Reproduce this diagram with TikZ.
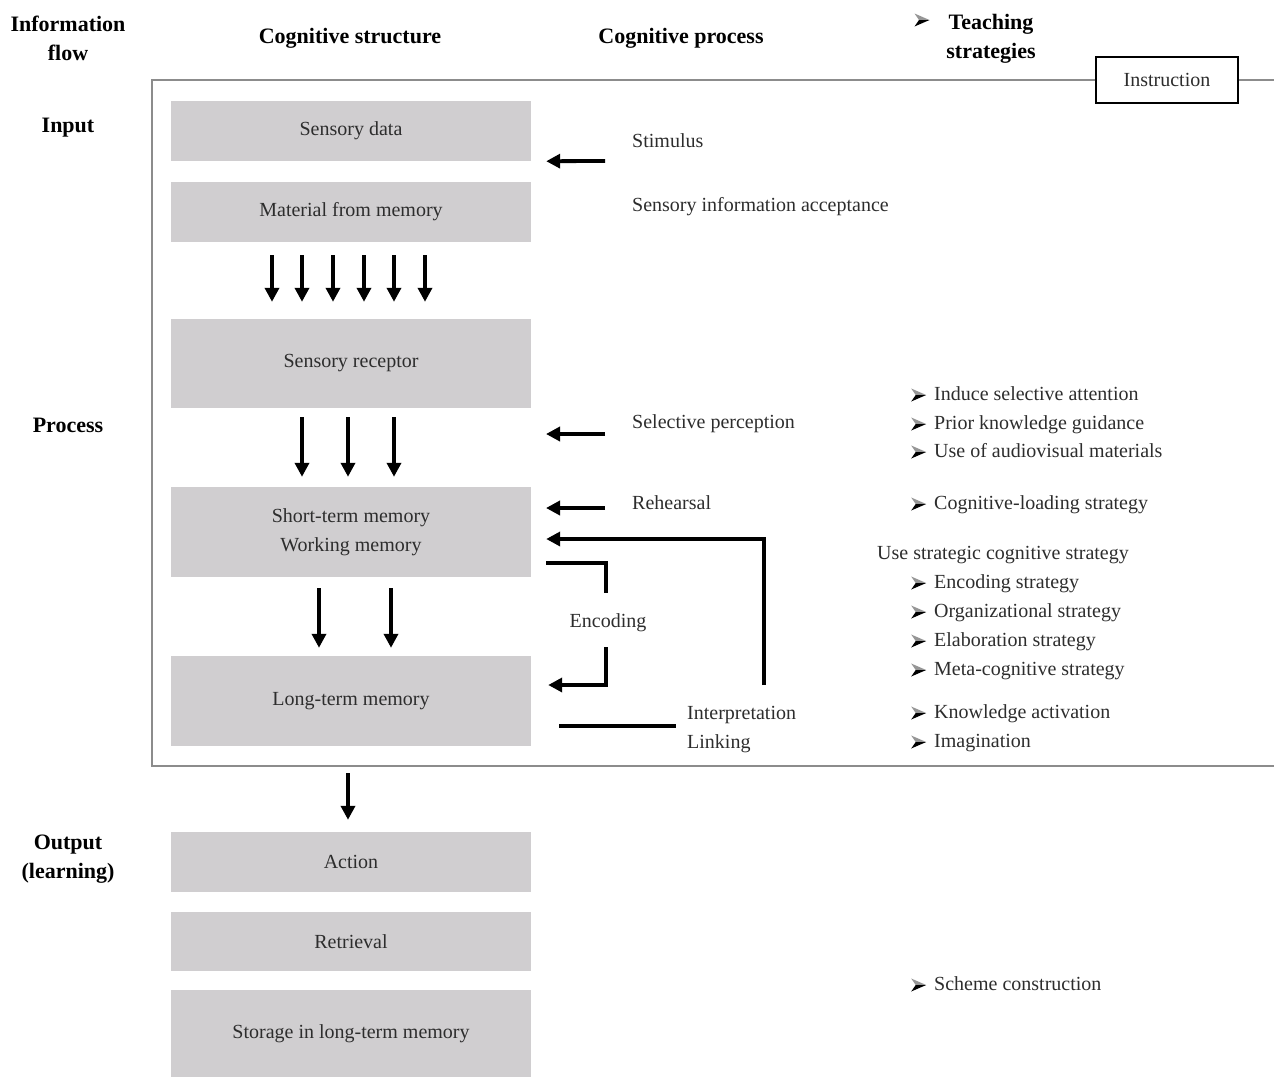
\documentclass[tikz,border=0pt]{standalone}
\usepackage{fontspec}
\setmainfont{Liberation Serif}
\usetikzlibrary{arrows.meta,calc}
\definecolor{boxgray}{RGB}{208,206,208}
\definecolor{txtgray}{RGB}{45,45,45}
\definecolor{framegray}{RGB}{140,140,140}
\definecolor{litgray}{RGB}{150,150,150}
% 3D arrowhead bullet
\newcommand{\bul}{\tikz[baseline=-5pt, x=1pt, y=1pt]{%
  \fill[litgray] (0,6.5) -- (15,0) -- (4.5,0) -- cycle;
  \fill[black] (0,-6.5) -- (15,0) -- (4.5,0) -- cycle;}}

\tikzset{
  sbox/.style={fill=boxgray, minimum width=360pt, inner sep=0pt, text=txtgray, align=center, font=\fontsize{20}{29}\selectfont},
  head/.style={align=center, inner sep=0pt, font=\bfseries\fontsize{22}{29}\selectfont},
  lbl/.style={anchor=base west, inner sep=0pt, text=txtgray, font=\fontsize{20}{29}\selectfont},
  conn/.style={line width=3.8pt},
  arr/.style={conn, -{Triangle[length=14pt,width=14pt]}},
  frame/.style={draw=framegray, line width=2pt},
}

\begin{document}
\begin{tikzpicture}[x=1pt,y=-1pt]
\useasboundingbox (0,0) rectangle (1274,1076);

% Column headings
\node[head] (hflow) at (68,38) {Information\\flow};
\node[head] (hstruct) at (350,38) {Cognitive structure};
\node[head] (hproc) at (681,38) {Cognitive process};
\node[inner sep=0pt] (hbul) at (922,20) {\bul};
\node[head] (hteach) at (991,39) {Teaching\\strategies};

% Row headings
\node[head] (rin) at (68,128) {Input};
\node[head] (rproc) at (68,425) {Process};
\node[head] (rout) at (68,859) {Output\\(learning)};

% Frame with instruction
\node[draw=black, line width=1.5pt, minimum width=142pt, minimum height=46pt, fill=white, text=txtgray, font=\fontsize{20}{29}\selectfont] (instr) at (1167,80) {Instruction};
\draw[frame] (instr.west) -| (152,766) -- (1274,766);
\draw[frame] (instr.east) -- (1274,80);

% Cognitive structure boxes
\node[sbox, minimum height=60pt] (sdata) at (351,131) {Sensory data};
\node[sbox, minimum height=60pt] (matmem) at (351,212) {Material from memory};
\node[sbox, minimum height=89pt] (recep) at (351,363.5) {Sensory receptor};
\node[sbox, minimum height=90pt] (stm) at (351,532) {Short-term memory\\Working memory};
\node[sbox, minimum height=90pt] (ltm) at (351,701) {Long-term memory};
\node[sbox, minimum height=60pt] (action) at (351,862) {Action};
\node[sbox, minimum height=59pt] (retr) at (351,941.5) {Retrieval};
\node[sbox, minimum height=88pt] (store) at (351,1034) {Storage in long-term memory};

% Downward flow
\foreach \dx in {-79,-49,-18,13,43,74}
  \draw[arr, shorten <=13pt, shorten >=17pt] ([xshift=\dx pt]matmem.south) -- ([xshift=\dx pt]recep.north);
\foreach \dx in {-49,-3,43}
  \draw[arr, shorten <=9pt, shorten >=10pt] ([xshift=\dx pt]recep.south) -- ([xshift=\dx pt]stm.north);
\foreach \dx in {-32,40}
  \draw[arr, shorten <=11pt, shorten >=8pt] ([xshift=\dx pt]stm.south) -- ([xshift=\dx pt]ltm.north);
\draw[arr, shorten <=27pt, shorten >=12pt] ([xshift=-3pt]ltm.south) -- ([xshift=-3pt]action.north);

% Cognitive process
\node[lbl] (stim) at (632,147) {Stimulus};
\node[lbl] (sacc) at (632,211) {Sensory information acceptance};
\node[lbl] (selp) at (632,428) {Selective perception};
\node[lbl] (reh) at (632,509) {Rehearsal};
\node[lbl, anchor=base] (enc) at (608,627) {Encoding};
\node[lbl] (interp) at (687,719) {Interpretation};
\node[lbl] (link) at (687,748) {Linking};

\coordinate (stimA) at (605,161);
\coordinate (selA) at (605,434);
\coordinate (rehA) at (605,508);
\coordinate (encT) at (606,593);
\coordinate (encB) at (606,647);
\coordinate (intT) at (764,685);
\coordinate (intL) at (676,726);

\draw[arr] (stimA) -- ($(sdata.south east)+(15,0)$);
\draw[arr] (selA) -- (selA -| 546,0);
\draw[arr] (rehA) -- (rehA -| 546,0);
\draw[arr] (intT) |- ($(stm.east)+(15,7)$);
\draw[conn] ($(stm.east)+(15,31)$) -| (encT);
\draw[arr] (encB) |- ($(ltm.east)+(17,-16)$);
\draw[conn] ($(ltm.east)+(28,25)$) -- (intL);

% Teaching strategies
\node[lbl] (usestr) at (877,559) {Use strategic cognitive strategy};
\foreach \yy/\txt [count=\i] in {400/Induce selective attention, 429/Prior knowledge guidance, 457/Use of audiovisual materials, 509/Cognitive-loading strategy, 588/Encoding strategy, 617/Organizational strategy, 646/Elaboration strategy, 675/Meta-cognitive strategy, 718/Knowledge activation, 747/Imagination, 990/Scheme construction}
  \node[lbl] (st\i) at (911,\yy) {\makebox[23pt][l]{\bul}\txt};

\end{tikzpicture}
\end{document}
